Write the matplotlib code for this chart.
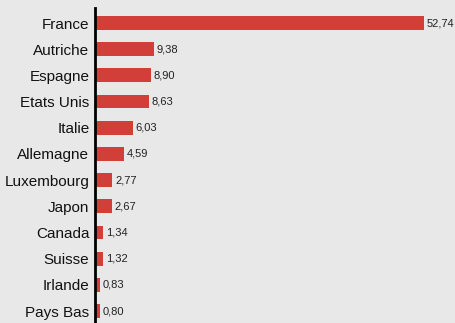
import matplotlib
matplotlib.use("Agg")
import matplotlib.pyplot as plt

countries = ["France", "Autriche", "Espagne", "Etats Unis", "Italie", "Allemagne",
             "Luxembourg", "Japon", "Canada", "Suisse", "Irlande", "Pays Bas"]
values = [52.74, 9.38, 8.90, 8.63, 6.03, 4.59, 2.77, 2.67, 1.34, 1.32, 0.83, 0.80]
value_labels = ["52,74", "9,38", "8,90", "8,63", "6,03", "4,59", "2,77", "2,67",
                "1,34", "1,32", "0,83", "0,80"]

plt.rcParams['font.family'] = ['Liberation Sans', 'DejaVu Sans']
bg = "#e8e8e8"
fig = plt.figure(figsize=(4.56, 3.23), dpi=100, facecolor=bg)
W, H = 456, 323
ax = fig.add_axes([95 / W, 0, (W - 95) / W, 1 - 8 / H])
ax.set_facecolor(bg)

y = list(range(len(countries)))
ax.barh(y, values, height=0.53, color="#d13f38", zorder=2)
for yi, v, lab in zip(y, values, value_labels):
    ax.text(v + 0.45, yi, lab, va="center", ha="left", fontsize=8, color="#222222")

ax.set_xlim(0, (W - 95) / 6.24)
ax.set_ylim(11.458, -0.573)
ax.set_yticks(y)
ax.set_yticklabels(countries, fontsize=11, color="#111111")
ax.tick_params(axis="y", length=0, pad=4)
ax.set_xticks([])
for s in ["top", "right", "bottom"]:
    ax.spines[s].set_visible(False)
ax.spines["left"].set_linewidth(2)
ax.spines["left"].set_color("black")

fig.savefig("out.png", dpi=100, facecolor=bg)
